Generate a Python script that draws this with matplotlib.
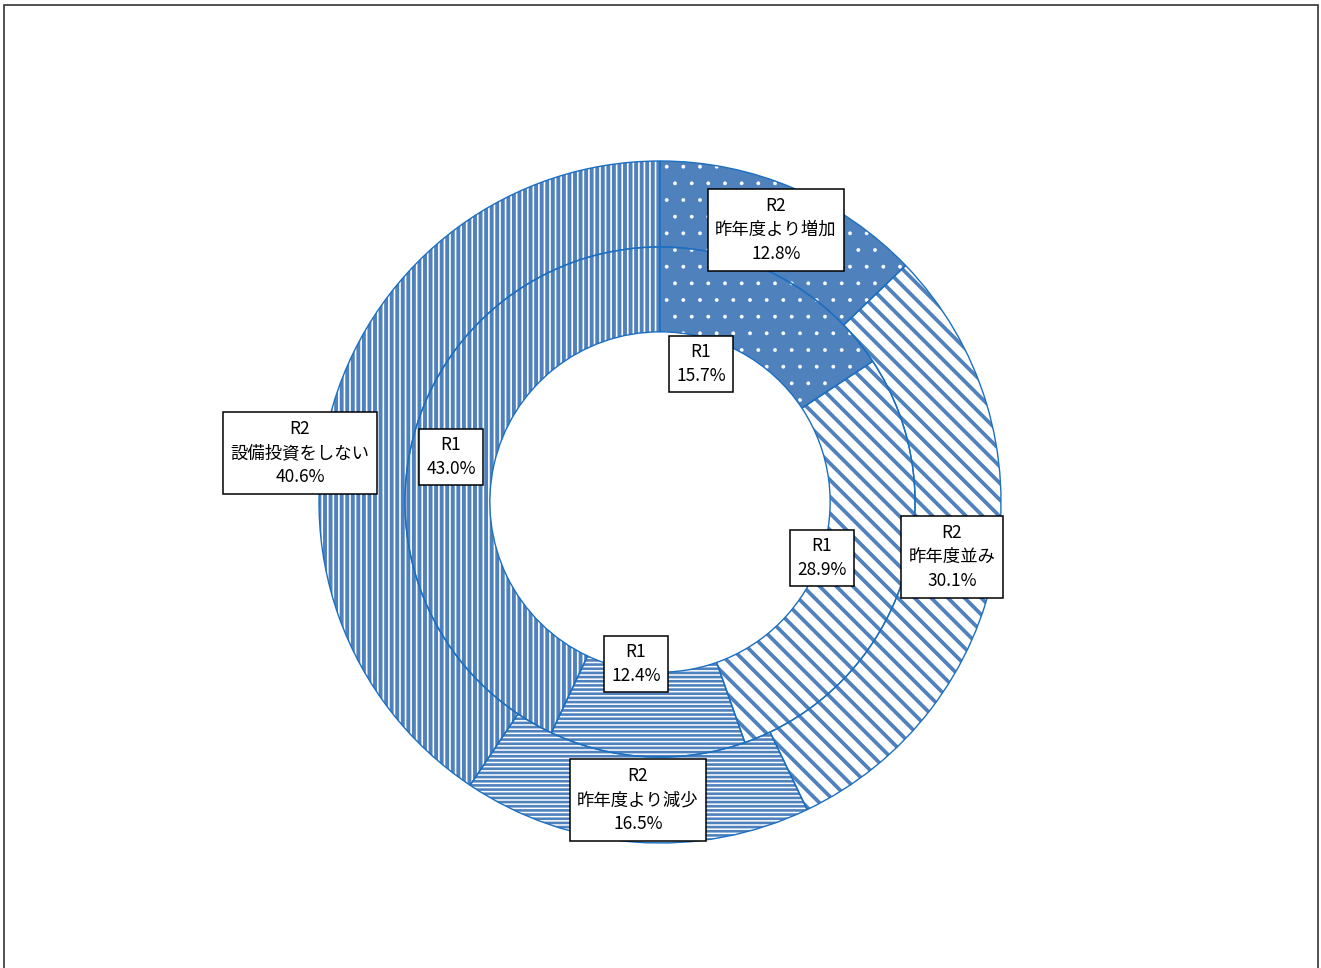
import matplotlib
matplotlib.use("Agg")
import matplotlib.pyplot as plt
from matplotlib.patches import Rectangle

plt.rcParams['font.family'] = ['Noto Sans CJK JP', 'DejaVu Sans']

# categories, clockwise from 12 o'clock
categories = ["昨年度より増加", "昨年度並み", "昨年度より減少", "設備投資をしない"]
r1_values = [15.7, 28.9, 12.4, 43.0]   # inner ring
r2_values = [12.8, 30.1, 16.5, 40.6]   # outer ring

BLUE = "#4F81BD"
EDGE = "#1C6FC0"

# fill style per category: (face, hatch, hatch colour, hatch linewidth in pt)
styles = [
    (BLUE, ".", "white", 0.3),
    ("white", "\\\\", BLUE, 2.7),
    ("white", "----", BLUE, 1.9),
    ("white", "|||", BLUE, 2.8),
]

# label box centres in pixels (x from left, y from top)
r1_label_px = [(701, 364), (822, 558), (636, 664), (451, 457)]
r2_label_px = [(776, 230), (952, 557), (638, 800), (300, 453)]

W, H = 1321, 968
CX, CY, R = 660, 502, 341

fig = plt.figure(figsize=(W / 100, H / 100), dpi=100)
ax = fig.add_axes([0, 0, 1, 1])
ax.axis("off")


def px_to_data(x, y):
    return (x - CX) / R, (CY - y) / R


def ring(values, radius, width):
    wedges, _ = ax.pie(values, radius=radius, startangle=90, counterclock=False,
                       wedgeprops=dict(width=width, linewidth=0), frame=False)
    for w, (face, hatch, hcol, hlw) in zip(wedges, styles):
        w.set_facecolor(face)
        w.set_edgecolor(hcol)
        w.set_hatch(hatch)
        w.set_hatch_linewidth(hlw)
        w.set_zorder(1)
    # thin blue outlines on top of the hatching
    outl, _ = ax.pie(values, radius=radius, startangle=90, counterclock=False,
                     wedgeprops=dict(width=width, linewidth=1.0, edgecolor=EDGE,
                                     fill=False), frame=False)
    for w in outl:
        w.set_zorder(2)


ring(r2_values, 1.0, 0.252)
ring(r1_values, 0.748, 0.249)
ax.set_xlim(-CX / R, (W - CX) / R)
ax.set_ylim(-(H - CY) / R, CY / R)
ax.set_aspect("auto")

box = dict(boxstyle="square,pad=0.42", facecolor="white", edgecolor="black", linewidth=1.1)
for val, (x, y) in zip(r1_values, r1_label_px):
    ax.text(*px_to_data(x, y), f"R1\n{val:.1f}%", ha="center", va="center",
            fontsize=12.5, linespacing=1.45, bbox=box, zorder=5)
for cat, val, (x, y) in zip(categories, r2_values, r2_label_px):
    ax.text(*px_to_data(x, y), f"R2\n{cat}\n{val:.1f}%", ha="center", va="center",
            fontsize=12.5, linespacing=1.45, bbox=box, zorder=5)

# outer frame
fig.patches.append(Rectangle((4 / W, -0.01), (1318 - 4) / W, 1 - 5 / H + 0.01,
                             transform=fig.transFigure, fill=False,
                             edgecolor="#333333", linewidth=1.2))

fig.savefig("out.png", dpi=100)
